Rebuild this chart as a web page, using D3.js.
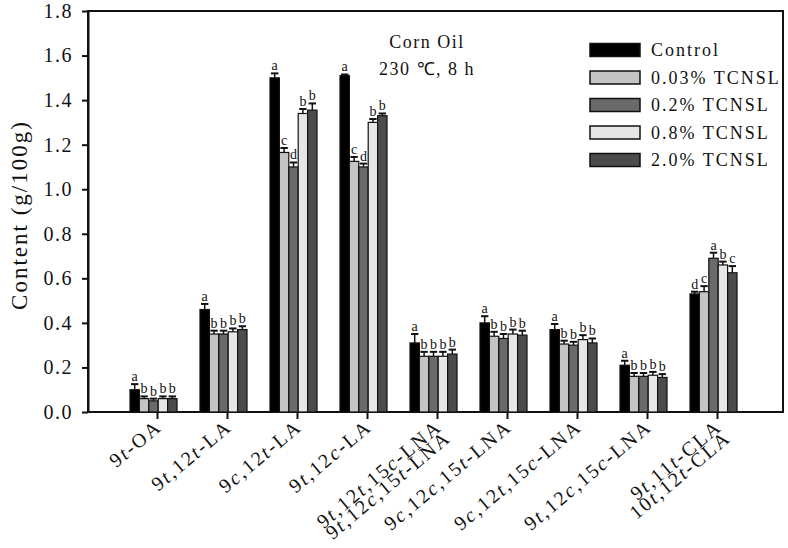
<!DOCTYPE html>
<html>
<head>
<meta charset="utf-8">
<script src="https://cdn.jsdelivr.net/npm/d3@7"></script>
<style>
  body { margin: 0; background: #fff; }
  svg text { font-family: "Liberation Serif", "Times New Roman", Times, serif; fill: #111; }
</style>
</head>
<body>
<svg id="chart" width="788" height="548"></svg>
<script>
// categories (each entry may have two lines)
var categories = [
  ["9t-OA"],
  ["9t,12t-LA"],
  ["9c,12t-LA"],
  ["9t,12c-LA"],
  ["9t,12t,15c-LNA", "9t,12c,15t-LNA"],
  ["9c,12c,15t-LNA"],
  ["9c,12t,15c-LNA"],
  ["9t,12c,15c-LNA"],
  ["9t,11t-CLA", "10t,12t-CLA"]
];
var series = ["Control", "0.03% TCNSL", "0.2% TCNSL", "0.8% TCNSL", "2.0% TCNSL"];
var colors = ["#000000", "#c4c4c4", "#6a6a6a", "#e6e6e6", "#4c4c4c"];

// values[series][category]
var control = [0.10, 0.46, 1.50, 1.51, 0.31, 0.40, 0.37, 0.21, 0.53];
var tc003   = [0.06, 0.35, 1.165, 1.125, 0.25, 0.34, 0.305, 0.16, 0.54];
var tc02    = [0.05, 0.35, 1.10, 1.10, 0.25, 0.33, 0.30, 0.16, 0.69];
var tc08    = [0.06, 0.36, 1.34, 1.30, 0.25, 0.35, 0.325, 0.165, 0.66];
var tc20    = [0.06, 0.37, 1.355, 1.33, 0.26, 0.345, 0.31, 0.155, 0.625];
var values = [control, tc003, tc02, tc08, tc20];

var errControl = [0.025, 0.025, 0.02, 0.005, 0.04, 0.03, 0.025, 0.02, 0.01];
var err003     = [0.01, 0.015, 0.02, 0.02, 0.02, 0.02, 0.015, 0.015, 0.025];
var err02      = [0.01, 0.015, 0.02, 0.015, 0.02, 0.02, 0.015, 0.015, 0.025];
var err08      = [0.01, 0.015, 0.02, 0.015, 0.02, 0.02, 0.02, 0.015, 0.015];
var err20      = [0.01, 0.015, 0.03, 0.01, 0.02, 0.02, 0.02, 0.015, 0.03];
var errors = [errControl, err003, err02, err08, err20];

var lettersControl = ["a", "a", "a", "a", "a", "a", "a", "a", "d"];
var letters003     = ["b", "b", "c", "c", "b", "b", "b", "b", "c"];
var letters02      = ["b", "b", "d", "d", "b", "b", "b", "b", "a"];
var letters08      = ["b", "b", "b", "b", "b", "b", "b", "b", "b"];
var letters20      = ["b", "b", "b", "b", "b", "b", "b", "b", "c"];
var letters = [lettersControl, letters003, letters02, letters08, letters20];

var yTicks = [0, 0.2, 0.4, 0.6, 0.8, 1.0, 1.2, 1.4, 1.6, 1.8];

var svg = d3.select("#chart");
var plotL = 88, plotR = 783, plotT = 11, plotB = 412;

var y = d3.scaleLinear().domain([0, 1.8]).range([plotB, plotT]);
var x = d3.scalePoint().domain(d3.range(categories.length)).range([157, 717]);
var xs = d3.scaleBand().domain(d3.range(series.length)).range([-27, 20]);

// frame
svg.append("rect")
  .attr("x", plotL).attr("y", plotT)
  .attr("width", plotR - plotL).attr("height", plotB - plotT)
  .attr("fill", "none").attr("stroke", "#111").attr("stroke-width", 2);

// bars
var rows = [];
values.forEach(function(vals, s) {
  vals.forEach(function(v, c) {
    rows.push({ s: s, c: c, v: v, e: errors[s][c], l: letters[s][c] });
  });
});

var g = svg.append("g");
g.selectAll("line.err")
  .data(rows)
  .enter()
  .append("line")
    .attr("x1", function(d) { return x(d.c) + xs(d.s) + xs.bandwidth() / 2; })
    .attr("x2", function(d) { return x(d.c) + xs(d.s) + xs.bandwidth() / 2; })
    .attr("y1", function(d) { return y(d.v); })
    .attr("y2", function(d) { return y(d.v + d.e); })
    .attr("stroke", "#111").attr("stroke-width", 1.5);
g.selectAll("line.cap")
  .data(rows)
  .enter()
  .append("line")
    .attr("x1", function(d) { return x(d.c) + xs(d.s) + 1; })
    .attr("x2", function(d) { return x(d.c) + xs(d.s) + xs.bandwidth() - 1; })
    .attr("y1", function(d) { return y(d.v + d.e); })
    .attr("y2", function(d) { return y(d.v + d.e); })
    .attr("stroke", "#111").attr("stroke-width", 2);
g.selectAll("rect.bar")
  .data(rows)
  .enter()
  .append("rect")
    .attr("x", function(d) { return x(d.c) + xs(d.s); })
    .attr("y", function(d) { return y(d.v); })
    .attr("width", xs.bandwidth())
    .attr("height", function(d) { return plotB - y(d.v); })
    .attr("fill", function(d) { return colors[d.s]; })
    .attr("stroke", "#111").attr("stroke-width", 1.2);
g.selectAll("text.sig")
  .data(rows)
  .enter()
  .append("text")
    .attr("x", function(d) { return x(d.c) + xs(d.s) + xs.bandwidth() / 2; })
    .attr("y", function(d) { return y(d.v + d.e) - 3; })
    .attr("text-anchor", "middle")
    .style("font-size", "14px")
    .text(function(d) { return d.l; });

// y axis
var yAxis = svg.append("g")
  .attr("transform", "translate(" + plotL + ",0)")
  .call(d3.axisLeft(y).tickValues(yTicks).tickFormat(d3.format(".1f")).tickSize(6).tickSizeOuter(0));
yAxis.attr("font-family", null).attr("font-size", null);
yAxis.select(".domain").attr("stroke", "#111").attr("stroke-width", 2);
yAxis.selectAll(".tick line").attr("stroke", "#111").attr("stroke-width", 2);
yAxis.selectAll(".tick text")
  .attr("x", -15)
  .style("font-size", "20px")
  .style("letter-spacing", "1.5px");

svg.append("text")
  .attr("transform", "translate(27,215) rotate(-90)")
  .attr("text-anchor", "middle")
  .style("font-size", "23px")
  .style("letter-spacing", "2px")
  .text("Content (g/100g)");

// x axis
var xAxis = svg.append("g")
  .attr("transform", "translate(0," + plotB + ")")
  .call(d3.axisBottom(x).tickFormat("").tickSize(7).tickSizeOuter(0));
xAxis.select(".domain").remove();
xAxis.selectAll(".tick line").attr("stroke", "#111").attr("stroke-width", 2);

function addLabel(sel, str) {
  var parts = str.split(/(\d[tc])/);
  parts.forEach(function(p) {
    if (/^\d[tc]$/.test(p)) {
      sel.append("tspan").text(p[0]);
      sel.append("tspan").style("font-style", "italic").text(p[1]);
    } else if (p.length) {
      sel.append("tspan").text(p);
    }
  });
}

categories.forEach(function(lines, c) {
  lines.forEach(function(line, k) {
    var t = svg.append("text")
      .attr("transform", "translate(" + (x(c) + 6 + k * 9) + "," + (plotB + 17 + k * 11) + ") rotate(-40)")
      .attr("text-anchor", "end")
      .style("font-size", "20px")
      .style("letter-spacing", "2px");
    addLabel(t, line);
  });
});

// title
svg.append("text").attr("x", 427).attr("y", 48).attr("text-anchor", "middle")
  .style("font-size", "18px").style("letter-spacing", "1.5px").text("Corn Oil");
svg.append("text").attr("x", 427).attr("y", 75).attr("text-anchor", "middle")
  .style("font-size", "18px").style("letter-spacing", "1.5px").text("230 \u2103, 8 h");

// legend
var legend = svg.append("g").attr("transform", "translate(590,50)");
var item = legend.selectAll("g")
  .data(series)
  .enter()
  .append("g")
    .attr("transform", function(d, i) { return "translate(0," + (i * 27.5) + ")"; });
item.append("rect")
  .attr("x", 0).attr("y", -6.5).attr("width", 50).attr("height", 13)
  .attr("fill", function(d, i) { return colors[i]; })
  .attr("stroke", "#111").attr("stroke-width", 1.5);
item.append("text")
  .attr("x", 61).attr("y", 6)
  .style("font-size", "18px")
  .style("letter-spacing", "2px")
  .text(function(d) { return d; });
</script>
</body>
</html>
